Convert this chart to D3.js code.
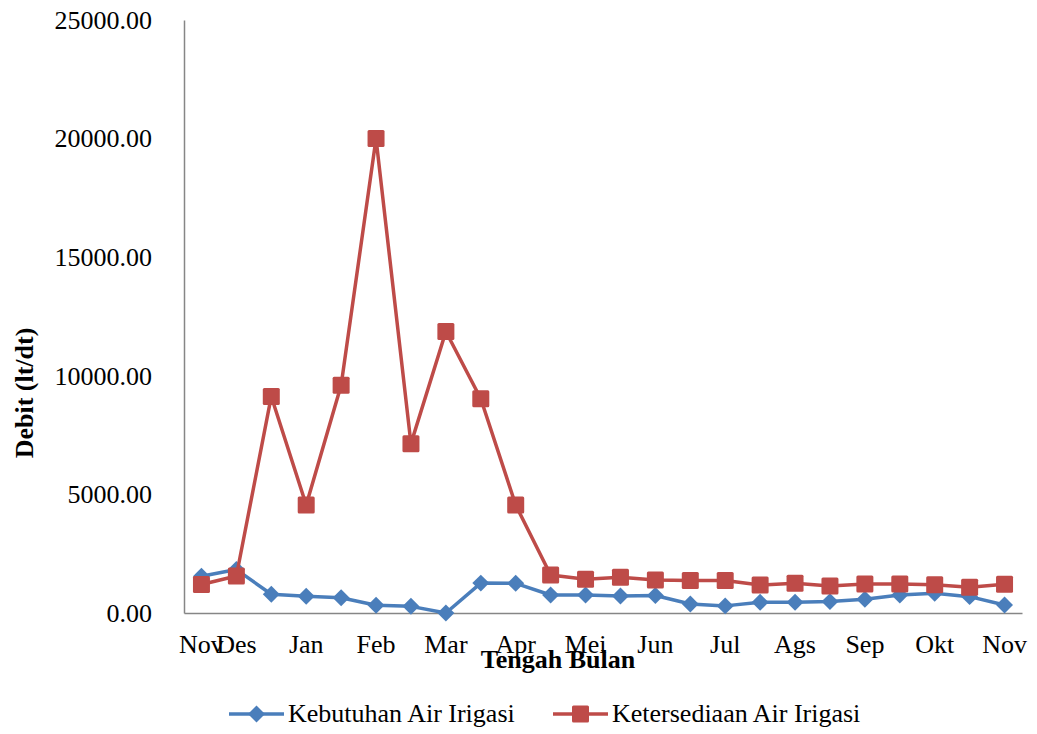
<!DOCTYPE html>
<html><head><meta charset="utf-8">
<script src="https://cdn.jsdelivr.net/npm/d3@7"></script>
<style>body{margin:0;background:#fff}svg{display:block}</style>
</head><body>
<svg id="c" width="1037" height="734"></svg>
<script>
const categories = ["Nov","Des","","Jan","","Feb","","Mar","","Apr","","Mei","","Jun","","Jul","","Ags","","Sep","","Okt","","Nov"];
const kebutuhan = [1550,1830,790,710,640,330,280,0,1260,1250,760,760,720,740,380,300,450,450,480,580,760,830,690,340];
const ketersediaan = [1200,1560,9130,4550,9600,20000,7140,11870,9030,4550,1600,1420,1510,1390,1370,1370,1180,1250,1140,1220,1220,1190,1090,1210];
const yTicks = [0,5000,10000,15000,20000,25000];
const seriesNames = ["Kebutuhan Air Irigasi","Ketersediaan Air Irigasi"];

const svg = d3.select("#c");
const font = "'Liberation Serif','Times New Roman',serif";
const FS = 26;
const L = 184, R = 1022, T = 20, B = 613;
const x = d3.scaleBand().domain(d3.range(categories.length)).range([L, R]);
const y = d3.scaleLinear().domain([0, 25000]).range([B, T]);
const blue = "#4A7EBB", red = "#BE4B48";

// Y axis
const ya = svg.append("g").attr("transform", `translate(${L},0)`)
  .call(d3.axisLeft(y).tickValues(yTicks).tickSize(0).tickPadding(32).tickFormat(d => d.toFixed(2)));
ya.select(".domain").attr("stroke", "#868686").attr("stroke-width", 1.5);
ya.selectAll("text").attr("font-family", font).attr("font-size", FS).attr("fill", "#000");

// X axis
const xa = svg.append("g").attr("transform", `translate(0,${B})`)
  .call(d3.axisBottom(x).tickSize(0).tickPadding(22).tickFormat(i => categories[i]));
xa.select(".domain").attr("stroke", "#868686").attr("stroke-width", 1.5);
xa.selectAll("text").attr("font-family", font).attr("font-size", FS).attr("fill", "#000");

// Titles
svg.append("text").attr("x", 558).attr("y", 668).attr("text-anchor", "middle")
  .attr("font-family", font).attr("font-size", FS).attr("font-weight", "bold").text("Tengah Bulan");
svg.append("text").attr("transform", "translate(33,393) rotate(-90)").attr("text-anchor", "middle")
  .attr("font-family", font).attr("font-size", FS).attr("font-weight", "bold").text("Debit (lt/dt)");

const cx = i => x(i) + x.bandwidth() / 2;
const line = d3.line().x((d, i) => cx(i)).y(d => y(d));

function diamond(g, px, py, color) {
  g.append("rect").attr("x", -6).attr("y", -6).attr("width", 12).attr("height", 12)
    .attr("fill", color).attr("transform", `translate(${px},${py}) rotate(45)`);
}
function square(g, px, py, color) {
  g.append("rect").attr("x", px - 8.5).attr("y", py - 8.5).attr("width", 17).attr("height", 17)
    .attr("rx", 1.5).attr("fill", color);
}

// Blue series
svg.append("path").datum(kebutuhan).attr("d", line).attr("fill", "none")
  .attr("stroke", blue).attr("stroke-width", 3.5).attr("stroke-linejoin", "round");
const gb = svg.append("g");
kebutuhan.forEach((v, i) => diamond(gb, cx(i), y(v), blue));

// Red series
svg.append("path").datum(ketersediaan).attr("d", line).attr("fill", "none")
  .attr("stroke", red).attr("stroke-width", 3.5).attr("stroke-linejoin", "round");
const gr = svg.append("g");
ketersediaan.forEach((v, i) => square(gr, cx(i), y(v), red));

// Legend
const lg = svg.append("g");
const items = [{x: 229, c: blue, m: diamond}, {x: 553, c: red, m: square}];
items.forEach((it, k) => {
  lg.append("line").attr("x1", it.x).attr("x2", it.x + 55).attr("y1", 714).attr("y2", 714)
    .attr("stroke", it.c).attr("stroke-width", 3.5);
  it.m(lg, it.x + 27.5, 714, it.c);
  lg.append("text").attr("x", it.x + 59).attr("y", 722).attr("font-family", font)
    .attr("font-size", FS).attr("fill", "#000").text(seriesNames[k]);
});
</script>
</body></html>
